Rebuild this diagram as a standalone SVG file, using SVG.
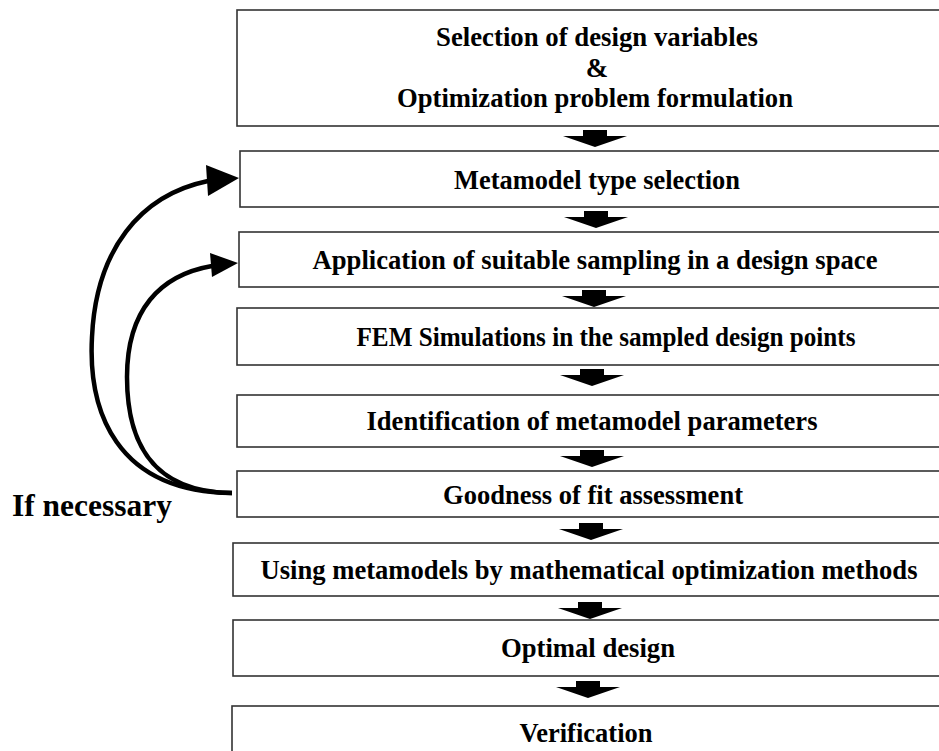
<svg xmlns="http://www.w3.org/2000/svg" xmlns:xlink="http://www.w3.org/1999/xlink" width="939" height="751" viewBox="0 0 939 751">
<style>
.box{fill:#fff;stroke:#333;stroke-width:1.6}
.t{font-family:"Liberation Serif","Times New Roman",serif;font-weight:bold;font-size:27px;fill:#000;text-anchor:middle}
.lbl{font-family:"Liberation Serif","Times New Roman",serif;font-weight:bold;font-size:32px;fill:#000}
.curve{fill:none;stroke:#000;stroke-width:4.5;stroke-linecap:butt}
.head{fill:#000}
</style>
<defs>
<path id="dn" d="M-12,0 H12 V6 H32 L0,17 L-32,6 H-12 Z" fill="#000"/>
</defs>
<rect width="939" height="751" fill="#fff"/>
<g id="n1"><rect class="box" x="237" y="10" width="720" height="116"/>
<text class="t" x="597" y="46" textLength="322" lengthAdjust="spacingAndGlyphs">Selection of design variables</text>
<text class="t" x="597" y="77">&amp;</text>
<text class="t" x="595" y="107" textLength="396" lengthAdjust="spacingAndGlyphs">Optimization problem formulation</text></g>
<g id="n2"><rect class="box" x="240" y="151" width="720" height="56"/>
<text class="t" x="597" y="189" textLength="286" lengthAdjust="spacingAndGlyphs">Metamodel type selection</text></g>
<g id="n3"><rect class="box" x="239" y="232" width="720" height="55"/>
<text class="t" x="595" y="269" textLength="565" lengthAdjust="spacingAndGlyphs">Application of suitable sampling in a design space</text></g>
<g id="n4"><rect class="box" x="237" y="308" width="720" height="57"/>
<text class="t" x="606" y="346" textLength="499" lengthAdjust="spacingAndGlyphs">FEM Simulations in the sampled design points</text></g>
<g id="n5"><rect class="box" x="237" y="395" width="720" height="52"/>
<text class="t" x="592" y="430" textLength="451" lengthAdjust="spacingAndGlyphs">Identification of metamodel parameters</text></g>
<g id="n6"><rect class="box" x="237" y="471" width="720" height="46"/>
<text class="t" x="593" y="504" textLength="300" lengthAdjust="spacingAndGlyphs">Goodness of fit assessment</text></g>
<g id="n7"><rect class="box" x="233" y="543" width="720" height="53"/>
<text class="t" x="589" y="579" textLength="657" lengthAdjust="spacingAndGlyphs">Using metamodels by mathematical optimization methods</text></g>
<g id="n8"><rect class="box" x="233" y="620" width="720" height="56"/>
<text class="t" x="588" y="657" textLength="174" lengthAdjust="spacingAndGlyphs">Optimal design</text></g>
<g id="n9"><rect class="box" x="232" y="706" width="720" height="60"/>
<text class="t" x="586" y="742" textLength="133" lengthAdjust="spacingAndGlyphs">Verification</text></g>
<g id="lbl"><text class="lbl" x="12" y="516" textLength="160" lengthAdjust="spacingAndGlyphs">If necessary</text></g>
<g id="connectors">
<use xlink:href="#dn" x="595" y="130"/>
<use xlink:href="#dn" x="596" y="211"/>
<use xlink:href="#dn" x="594" y="290"/>
<use xlink:href="#dn" x="592" y="369"/>
<use xlink:href="#dn" x="592" y="450"/>
<use xlink:href="#dn" x="591" y="523"/>
<use xlink:href="#dn" x="590" y="602"/>
<use xlink:href="#dn" x="588" y="681"/>
<path class="curve" d="M232,493 C115,492 88,410 92,337 C96,250 140,195 208,181"/>
<polygon class="head" points="239,178 206,165 208,196"/>
<path class="curve" d="M232,493 C150,492 127,440 127,377 C127,310 160,275 212,266"/>
<polygon class="head" points="238,263 210,253 212,277"/>
</g>
</svg>
